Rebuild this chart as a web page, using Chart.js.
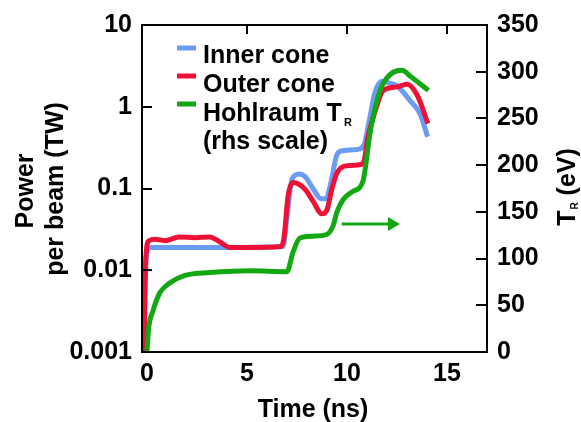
<!DOCTYPE html>
<html>
<head>
<meta charset="utf-8">
<script src="https://cdn.jsdelivr.net/npm/chart.js@4/dist/chart.umd.min.js"></script>
<style>
html,body{margin:0;padding:0;background:#fff;}
canvas{display:block;}
</style>
</head>
<body>
<canvas id="c" width="581" height="422"></canvas>
<script>
// ---- data ----
const innerT = [-0.2, -0.08, 0.15, 1.0, 4.0, 6.8, 6.98, 7.25, 7.6, 7.9, 8.3, 8.7, 8.95, 9.2, 9.5, 9.8, 10.5, 10.85, 11.1, 11.4, 11.75, 12.0, 12.5, 13.15, 13.65, 14.03];
const innerP = [0.001, 0.012, 0.019, 0.019, 0.019, 0.0195, 0.04, 0.13, 0.15, 0.14, 0.1, 0.075, 0.075, 0.12, 0.26, 0.29, 0.3, 0.34, 0.65, 1.5, 2.05, 1.98, 1.8, 1.19, 0.82, 0.43];

const outerT = [-0.15, -0.05, 0.1, 0.4, 0.9, 1.6, 2.4, 3.15, 3.55, 4.15, 5.0, 6.7, 6.85, 7.05, 7.3, 7.9, 8.3, 8.75, 9.0, 9.25, 9.5, 10.0, 10.8, 11.05, 11.4, 11.8, 12.5, 13.0, 13.5, 14.05];
const outerP = [0.001, 0.015, 0.023, 0.024, 0.023, 0.0255, 0.025, 0.0255, 0.023, 0.019, 0.019, 0.0195, 0.025, 0.08, 0.118, 0.098, 0.07, 0.049, 0.055, 0.1, 0.155, 0.19, 0.2, 0.43, 0.87, 1.57, 1.75, 1.89, 1.4, 0.62];

const trT = [0.0, 0.07, 0.3, 0.65, 1.15, 1.9, 3.15, 5.15, 7.0, 7.3, 7.65, 8.3, 9.0, 9.3, 9.5, 9.8, 10.3, 10.8, 11.15, 11.5, 11.8, 12.5, 12.75, 13.15, 14.07];
const trV = [0, 23, 44, 63.6, 74, 82, 85, 87, 86, 107, 122, 124, 126, 135, 150, 163, 172, 183, 234, 269, 287, 301, 301.5, 295.5, 280];

const arrowT = [9.73, 12.25];
const arrowV = [137, 137];

const xTicks = [0, 5, 10, 15];
const yTicks = [0.001, 0.01, 0.1, 1, 10];
const y1Ticks = [0, 50, 100, 150, 200, 250, 300, 350];

const seriesNames = ['Inner cone', 'Outer cone', 'Hohlraum T', '(rhs scale)'];

// ---- styling ----
const BLUE = '#6a9cf6';
const RED = '#ef1035';
const GREEN = '#12a812';
const FONT = '"Liberation Sans", Arial, Helvetica, sans-serif';

function pts(t, v) { return t.map((x, i) => ({x: x, y: v[i]})); }

const framePlugin = {
  id: 'frame',
  afterDatasetsDraw(chart) {
    const ctx = chart.ctx;
    const a = chart.chartArea;
    const sx = chart.scales.x, sy = chart.scales.y, sy1 = chart.scales.y1;
    ctx.save();
    ctx.strokeStyle = '#000';
    ctx.lineWidth = 2;
    ctx.strokeRect(a.left, a.top, a.right - a.left, a.bottom - a.top);
    ctx.beginPath();
    // left ticks (inward)
    yTicks.forEach(v => { const y = Math.round(sy.getPixelForValue(v)); ctx.moveTo(a.left, y); ctx.lineTo(a.left + 10, y); });
    // right ticks (inward)
    y1Ticks.forEach(v => { const y = Math.round(sy1.getPixelForValue(v)); ctx.moveTo(a.right, y); ctx.lineTo(a.right - 11, y); });
    // top ticks (inward)
    xTicks.slice(1).forEach(v => { const x = Math.round(sx.getPixelForValue(v)); ctx.moveTo(x, a.top); ctx.lineTo(x, a.top + 9); });
    ctx.stroke();

    // legend
    const legendRows = [
      {c: BLUE, ly: 48, base: 63, text: seriesNames[0]},
      {c: RED, ly: 76, base: 92, text: seriesNames[1]},
      {c: GREEN, ly: 104, base: 121, text: seriesNames[2], sub: 'R'},
      {c: null, base: 149, text: seriesNames[3]}
    ];
    ctx.fillStyle = '#000';
    ctx.textBaseline = 'alphabetic';
    ctx.textAlign = 'left';
    legendRows.forEach(r => {
      if (r.c) {
        ctx.strokeStyle = r.c;
        ctx.lineWidth = 5;
        ctx.beginPath();
        ctx.moveTo(177, r.ly); ctx.lineTo(196, r.ly);
        ctx.stroke();
      }
      ctx.font = 'bold 25px ' + FONT;
      ctx.fillText(r.text, 203, r.base);
      if (r.sub) {
        const w = ctx.measureText(r.text).width;
        ctx.font = 'bold 11px ' + FONT;
        ctx.fillText(r.sub, 203 + w + 2, r.base + 5);
      }
    });

    // x title
    ctx.font = 'bold 25px ' + FONT;
    ctx.textAlign = 'center';
    ctx.fillText('Time (ns)', 313, 417);

    // left title (rotated)
    ctx.save();
    ctx.translate(0, 0);
    ctx.rotate(-Math.PI / 2);
    ctx.textAlign = 'center';
    ctx.fillText('Power', -191, 33);
    ctx.fillText('per beam (TW)', -189, 63);
    ctx.restore();

    // right title (rotated) T_R (eV)
    ctx.save();
    ctx.rotate(-Math.PI / 2);
    ctx.textAlign = 'left';
    ctx.font = 'bold 25px ' + FONT;
    const wT = ctx.measureText('T').width;
    const wRest = ctx.measureText(' (eV)').width;
    ctx.font = 'bold 10px ' + FONT;
    const wR = ctx.measureText('R').width;
    const total = wT + wR + 1 + wRest;
    let x0 = -187 - total / 2;
    ctx.font = 'bold 25px ' + FONT;
    ctx.fillText('T', x0, 575);
    ctx.font = 'bold 10px ' + FONT;
    ctx.fillText('R', x0 + wT + 1, 578);
    ctx.font = 'bold 25px ' + FONT;
    ctx.fillText(' (eV)', x0 + wT + 1 + wR, 575);
    ctx.restore();
    ctx.restore();
  }
};

const tickFont = {family: FONT, size: 25, weight: 'bold'};

new Chart(document.getElementById('c'), {
  type: 'line',
  data: {
    datasets: [
      {label: 'arrow', data: pts(arrowT, arrowV), yAxisID: 'y1', borderColor: GREEN, backgroundColor: GREEN,
       borderWidth: 3, pointRadius: [0, 8], pointStyle: 'triangle', rotation: 90, pointBorderWidth: 0, tension: 0, order: 0},
      {label: seriesNames[2], data: pts(trT, trV), yAxisID: 'y1', borderColor: GREEN, borderWidth: 5,
       pointRadius: 0, cubicInterpolationMode: 'monotone', order: 1},
      {label: seriesNames[1], data: pts(outerT, outerP), yAxisID: 'y', borderColor: RED, borderWidth: 5,
       pointRadius: 0, cubicInterpolationMode: 'monotone', order: 2},
      {label: seriesNames[0], data: pts(innerT, innerP), yAxisID: 'y', borderColor: BLUE, borderWidth: 5,
       pointRadius: 0, cubicInterpolationMode: 'monotone', order: 3}
    ]
  },
  options: {
    responsive: false,
    animation: false,
    devicePixelRatio: 1,
    layout: {padding: {top: 20, left: 0, right: 0, bottom: 0}},
    plugins: {legend: {display: false}, tooltip: {enabled: false}},
    scales: {
      x: {
        type: 'linear', min: -0.25, max: 17,
        grid: {display: false, drawTicks: false},
        border: {display: false},
        ticks: {font: tickFont, color: '#000', padding: 7, maxRotation: 0},
        afterBuildTicks: s => { s.ticks = xTicks.map(v => ({value: v})); },
        afterFit: s => { s.height = 70; }
      },
      y: {
        type: 'logarithmic', position: 'left', min: 0.001, max: 10,
        grid: {display: false, drawTicks: false},
        border: {display: false},
        ticks: {font: tickFont, color: '#000', padding: 10, callback: v => String(v)},
        afterBuildTicks: s => { s.ticks = yTicks.map(v => ({value: v})); },
        afterFit: s => { s.width = 142; }
      },
      y1: {
        type: 'linear', position: 'right', min: 0, max: 350,
        grid: {display: false, drawTicks: false},
        border: {display: false},
        ticks: {font: tickFont, color: '#000', padding: 10, stepSize: 50},
        afterBuildTicks: s => { s.ticks = y1Ticks.map(v => ({value: v})); },
        afterFit: s => { s.width = 94; }
      }
    }
  },
  plugins: [framePlugin]
});
</script>
</body>
</html>
